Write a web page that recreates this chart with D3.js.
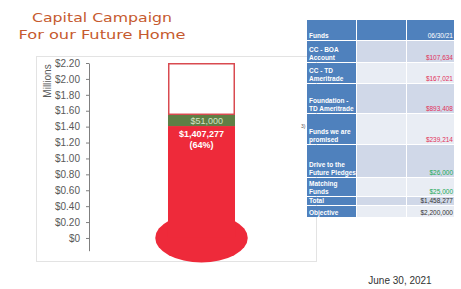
<!DOCTYPE html>
<html>
<head>
<meta charset="utf-8">
<script src="https://cdn.jsdelivr.net/npm/d3@7"></script>
<style>
  body { margin: 0; background: #fff; }
  svg { display: block; }
</style>
</head>
<body>
<svg width="461" height="289"></svg>
<script>
// values in millions
const yTicks = [0, 0.2, 0.4, 0.6, 0.8, 1.0, 1.2, 1.4, 1.6, 1.8, 2.0, 2.2];
const received = 1.407277;
const pledgesBar = 0.148;
const objective = 2.2;
const receivedLabel = ['$1,407,277', '(64%)'];
const pledgesLabel = '$51,000';

const fundNames = [['CC - BOA', 'Account'], ['CC - TD', 'Ameritrade'], ['Foundation -', 'TD Ameritrade'],
  ['Funds we are', 'promised'], ['Drive to the', 'Future Pledges'], ['Matching', 'Funds'], ['Total'], ['Objective']];
const fundValues = ['$107,634', '$167,021', '$893,408', '$239,214', '$26,000', '$25,000', '$1,458,277', '$2,200,000'];
const fundKind = ['cash', 'cash', 'cash', 'cash', 'pledge', 'pledge', 'sum', 'sum'];
const rowBottoms = [62, 83, 113, 144, 177, 196, 205, 217];

const RED = '#ee2a3a';
const GREEN = '#5f7f45';
const BLUE = '#4f81bd';
const valueColor = { cash: '#e2305a', pledge: '#21a956', sum: '#333' };

var svg = d3.select('svg');

/* title */
svg.append('text').attr('x', 102).attr('y', 22).attr('text-anchor', 'middle')
    .attr('font-family', 'DejaVu Sans').attr('font-size', 13).attr('fill', '#c65a2e')
    .attr('textLength', 140).attr('lengthAdjust', 'spacingAndGlyphs')
    .text('Capital Campaign');
svg.append('text').attr('x', 102).attr('y', 39).attr('text-anchor', 'middle')
    .attr('font-family', 'DejaVu Sans').attr('font-size', 13).attr('fill', '#c65a2e')
    .attr('textLength', 167).attr('lengthAdjust', 'spacingAndGlyphs')
    .text('For our Future Home');

/* chart frame */
svg.append('rect').attr('x', 36.5).attr('y', 56.5).attr('width', 280).attr('height', 205)
    .attr('fill', '#fff').attr('stroke', '#e3e3e3');

var y = d3.scaleLinear().domain([-0.16, 2.2]).range([250.7, 63]);
var x = d3.scaleBand().domain(['Campaign']).range([89, 314]).paddingInner(0).paddingOuter(1.179);

var bx = x('Campaign'), bw = x.bandwidth();

/* bulb */
svg.append('ellipse')
    .attr('cx', bx + bw / 2).attr('cy', y(0))
    .attr('rx', bw * 0.69).attr('ry', 24.5)
    .attr('fill', RED);

/* received */
svg.append('rect').attr('x', bx).attr('width', bw)
    .attr('y', y(received)).attr('height', y(0) - y(received))
    .attr('fill', RED);

/* pledges */
svg.append('rect').attr('x', bx).attr('width', bw)
    .attr('y', y(received + pledgesBar)).attr('height', y(received) - y(received + pledgesBar))
    .attr('fill', GREEN);

/* remaining */
svg.append('rect').attr('x', bx + 0.75).attr('width', bw - 1.5)
    .attr('y', y(objective) + 0.75).attr('height', y(received + pledgesBar) - y(objective) - 0.75)
    .attr('fill', 'none').attr('stroke', '#d94a50').attr('stroke-width', 1.5);

svg.append('text').attr('x', bx + bw - 12).attr('y', (y(received) + y(received + pledgesBar)) / 2 + 3.5)
    .attr('text-anchor', 'end').attr('font-family', 'Liberation Sans').attr('font-size', 9)
    .attr('fill', '#d6e3c6').text(pledgesLabel);
svg.append('text').attr('x', bx + bw / 2).attr('y', y(received) + 11)
    .attr('text-anchor', 'middle').attr('font-family', 'Liberation Sans').attr('font-size', 9)
    .attr('font-weight', 'bold').attr('fill', '#fff')
    .selectAll('tspan').data(receivedLabel).join('tspan')
    .attr('x', bx + bw / 2).attr('dy', (d, i) => i ? 11 : 0).text(d => d);

/* y axis */
var yAxis = svg.append('g').attr('transform', 'translate(89,0)')
    .call(d3.axisLeft(y).tickValues(yTicks).tickSize(3).tickSizeOuter(0)
        .tickFormat(d => d === 0 ? '$0' : '$' + d.toFixed(2)));
yAxis.select('.domain').attr('stroke', '#7f7f7f');
yAxis.selectAll('.tick line').attr('stroke', '#7f7f7f');
yAxis.selectAll('.tick text').attr('font-family', 'Liberation Sans').attr('font-size', 10)
    .attr('fill', '#595959').attr('x', -9);

svg.append('text').attr('transform', 'translate(51,81) rotate(-90)').attr('text-anchor', 'middle')
    .attr('font-family', 'Liberation Sans').attr('font-size', 10).attr('fill', '#595959')
    .text('Millions');

/* funds table */
var cols = [307, 357, 407, 455];
var table = svg.append('g').attr('font-family', 'Liberation Sans').attr('font-size', 6.5).attr('font-weight', 'bold');

table.selectAll('rect.head').data([0, 1, 2]).join('rect').attr('class', 'head')
    .attr('x', i => cols[i]).attr('width', i => cols[i + 1] - cols[i] - 1)
    .attr('y', 20).attr('height', 20).attr('fill', BLUE);
table.append('text').attr('x', 309).attr('y', 38).attr('fill', '#fff').text('Funds');
table.append('text').attr('x', 453).attr('y', 38).attr('text-anchor', 'end').attr('fill', '#fff')
    .attr('font-weight', 'normal').text('06/30/21');

var rows = table.selectAll('g.row').data(fundNames).join('g').attr('class', 'row');
rows.each(function (lines, i) {
    var top = i ? rowBottoms[i - 1] + 1 : 41, bottom = rowBottoms[i];
    var g = d3.select(this);
    g.append('rect').attr('x', cols[0]).attr('width', cols[1] - cols[0] - 1)
        .attr('y', top).attr('height', bottom - top).attr('fill', BLUE);
    g.selectAll('rect.cell').data([1, 2]).join('rect').attr('class', 'cell')
        .attr('x', c => cols[c]).attr('width', c => cols[c + 1] - cols[c] - 1)
        .attr('y', top).attr('height', bottom - top)
        .attr('fill', i % 2 ? '#e9edf4' : '#d0d8e8');
    g.selectAll('text.name').data(lines).join('text').attr('class', 'name')
        .attr('x', 309).attr('y', (d, j) => bottom - 2 - (lines.length - 1 - j) * 8.5)
        .attr('fill', '#fff').text(d => d);
    g.append('text').attr('x', 453).attr('y', bottom - 2).attr('text-anchor', 'end')
        .attr('font-weight', 'normal').attr('fill', valueColor[fundKind[i]]).text(fundValues[i]);
});

svg.append('text').attr('x', 301).attr('y', 128).attr('font-family', 'Liberation Sans')
    .attr('font-size', 5).attr('fill', '#555').text('3)');

/* date */
svg.append('text').attr('x', 400).attr('y', 284).attr('text-anchor', 'middle')
    .attr('font-family', 'Liberation Sans').attr('font-size', 10).attr('fill', '#333')
    .text('June 30, 2021');
</script>
</body>
</html>
